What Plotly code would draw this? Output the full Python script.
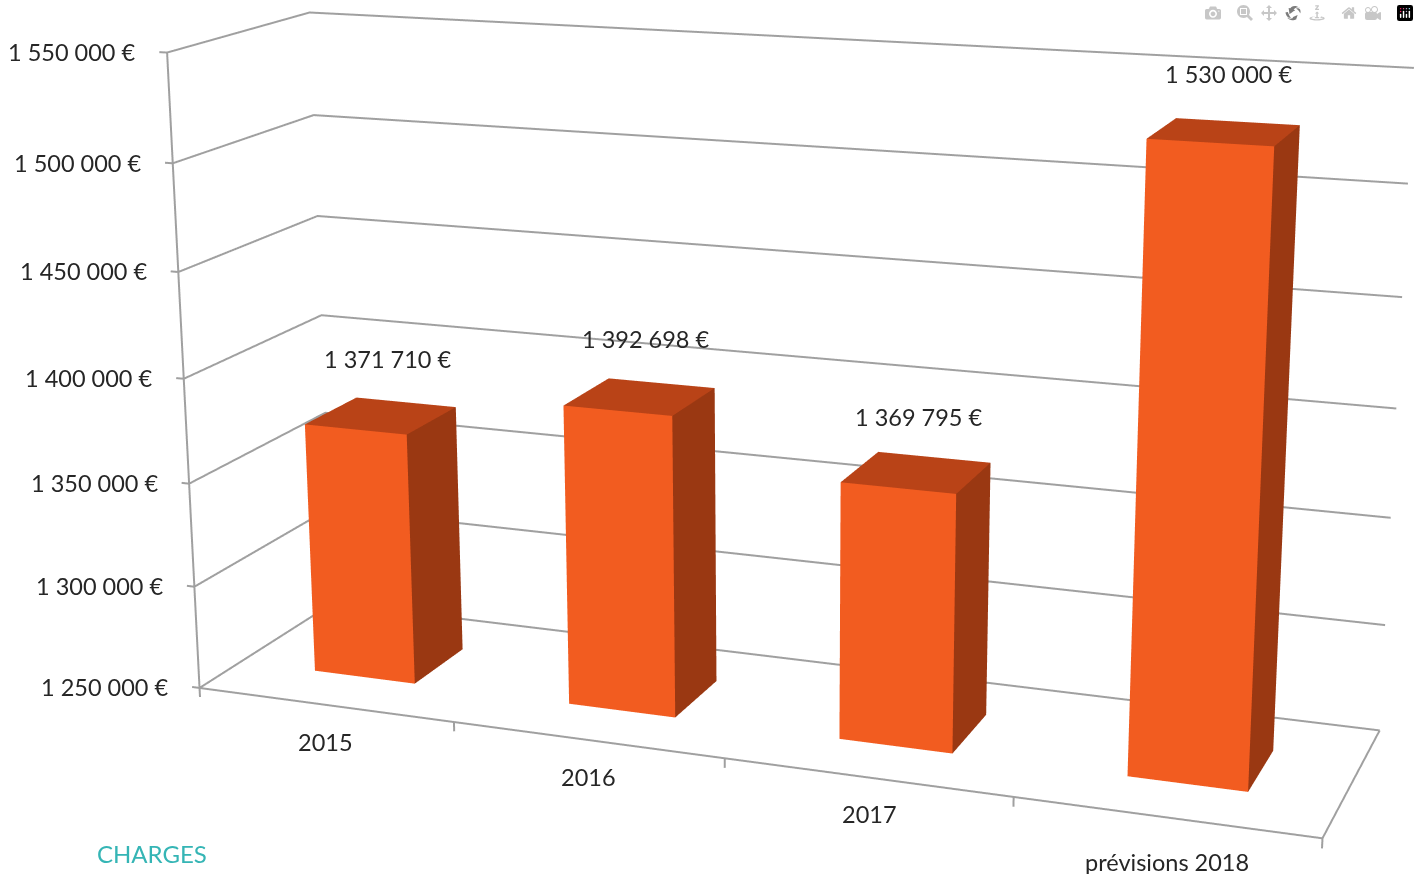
import numpy as np
import plotly.graph_objects as go

categories = ["2015", "2016", "2017", "prévisions 2018"]
values = [1371710, 1392698, 1369795, 1530000]
z_ticks = [1250000, 1300000, 1350000, 1400000, 1450000, 1500000, 1550000]
z_labels = ["1 250 000 €", "1 300 000 €", "1 350 000 €", "1 400 000 €", "1 450 000 €", "1 500 000 €", "1 550 000 €"]
value_labels = ["1 371 710 €", "1 392 698 €", "1 369 795 €", "1 530 000 €"]
Z0, Z1 = 1250000, 1550000
W, H = 1419, 874

ex, ey, ez, cx, cz, ay, az, roll, F = 1.8233, -4.9959, 1.3913, -0.1226, -0.0883, 0.5086, 1.1352, 0.0068, 3243.2
ax = 2.0
xr = [-0.1, 4.02]
yr = [-0.02, 1.02]
zr = [Z0 - 12000, Z1 + 3000]
off_w = np.array([((xr[0] + xr[1]) / 2 / 4 - .5) * ax,
                  ((yr[0] + yr[1]) / 2 - .5) * ay,
                  ((zr[0] + zr[1]) / 2 - Z0) / (Z1 - Z0) * az - .5 * az])
aspect = dict(x=ax * (xr[1] - xr[0]) / 4, y=float(ay * (yr[1] - yr[0])), z=float(az * (zr[1] - zr[0]) / (Z1 - Z0)))
eye = np.array([ex, ey, ez]) - off_w
cen = np.array([cx, 0, cz]) - off_w

xs = [i + 0.5 for i in range(4)]
fig = go.Figure()
gx, gy, gz = [], [], []
for z in z_ticks:
    gx += [-0.03, 0, 0, 4, None]
    gy += [0, 0, 1, 1, None]
    gz += [z, z, z, z, None]
gx += [0, 0, None, 0, 4, 4, None]
gy += [0, 0, None, 0, 0, 1, None]
gz += [Z0, Z1, None, Z0, Z0, Z0, None]
for i in range(5):
    gx += [i, i, None]
    gy += [0, 0, None]
    gz += [Z0, Z0 - 4500, None]
fig.add_trace(go.Scatter3d(x=gx, y=gy, z=gz, mode="lines", line=dict(color="#A0A0A0", width=4), hoverinfo="skip"))
vx, vy, vz, I, J_, K, fc = [], [], [], [], [], [], []
for i, v in enumerate(values):
    b = len(vx)
    for (a, d, h) in [(-.2, .30, Z0), (.2, .30, Z0), (.2, .69, Z0), (-.2, .69, Z0), (-.2, .30, v), (.2, .30, v), (.2, .69, v), (-.2, .69, v)]:
        vx.append(xs[i] + a); vy.append(d); vz.append(h)
    for tri, col in [((0, 1, 5), '#F25C20'), ((0, 5, 4), '#F25C20'), ((1, 2, 6), '#9A3812'), ((1, 6, 5), '#9A3812'),
                     ((4, 5, 6), '#B94317'), ((4, 6, 7), '#B94317')]:
        I.append(b + tri[0]); J_.append(b + tri[1]); K.append(b + tri[2]); fc.append(col)
fig.add_trace(go.Mesh3d(x=vx, y=vy, z=vz, i=I, j=J_, k=K, facecolor=fc, flatshading=True, hoverinfo="skip",
                        lighting=dict(ambient=1, diffuse=0, specular=0, roughness=1, fresnel=0)))
off = dict(showgrid=False, showline=False, zeroline=False, showticklabels=False, showbackground=False,
           showspikes=False, ticks="", title="")
font = dict(family="Lato", size=23.5, color="#262626")
ann = []
for z, t in zip(z_ticks, z_labels):
    ann.append(dict(x=-0.03, y=0, z=z, text=t, showarrow=False, xanchor="right", xshift=-22, yshift=0, font=font))
cat_dx, cat_dy = [1, 1, 3, 2], [-37, -37, -37, -45]
for x, t, dx, dy in zip(xs, categories, cat_dx, cat_dy):
    ann.append(dict(x=x, y=0, z=Z0, text=t, showarrow=False, xanchor="center", xshift=dx, yshift=dy, font=font))
val_dx, val_dy = [6, 5, 2, 4], [56, 57, 55, 58]
for x, v, t, dx, dy in zip(xs, values, value_labels, val_dx, val_dy):
    ann.append(dict(x=x, y=0.5, z=v, text=t, showarrow=False, xanchor="center", yshift=dy, xshift=dx, font=font))
fig.update_layout(
    width=W, height=H, margin=dict(l=0, r=0, t=0, b=0), paper_bgcolor="white", showlegend=False,
    scene=dict(domain=dict(x=[0, 1], y=[0, 1]), aspectmode="manual", aspectratio=aspect, dragmode="orbit",
               camera=dict(eye=dict(x=eye[0], y=eye[1], z=eye[2]), center=dict(x=cen[0], y=cen[1], z=cen[2]),
                           up=dict(x=float(np.sin(roll)), y=0, z=float(np.cos(roll)))),
               xaxis=dict(range=xr, tickvals=[], **off), yaxis=dict(range=yr, tickvals=[], **off),
               zaxis=dict(range=zr, tickvals=[], **off), annotations=ann),
    annotations=[dict(text="CHARGES", x=152 / W, y=1 - 853 / H, xref="paper", yref="paper", showarrow=False,
                      xanchor="center", yanchor="middle",
                      font=dict(family="Lato", size=24, color="#35B5B5"))])
fov = 2 * np.arctan((H / 2) / F)
post = """
document.body.style.margin='0';
var gd=document.getElementById('{plot_id}');
var t=setInterval(function(){
  var s=gd._fullLayout&&gd._fullLayout.scene&&gd._fullLayout.scene._scene;
  if(s&&s.glplot){s.glplot.fovy=%f;s.glplot.redraw();clearInterval(t);}
},50);
""" % fov
fig.write_html("out.html", post_script=post)
